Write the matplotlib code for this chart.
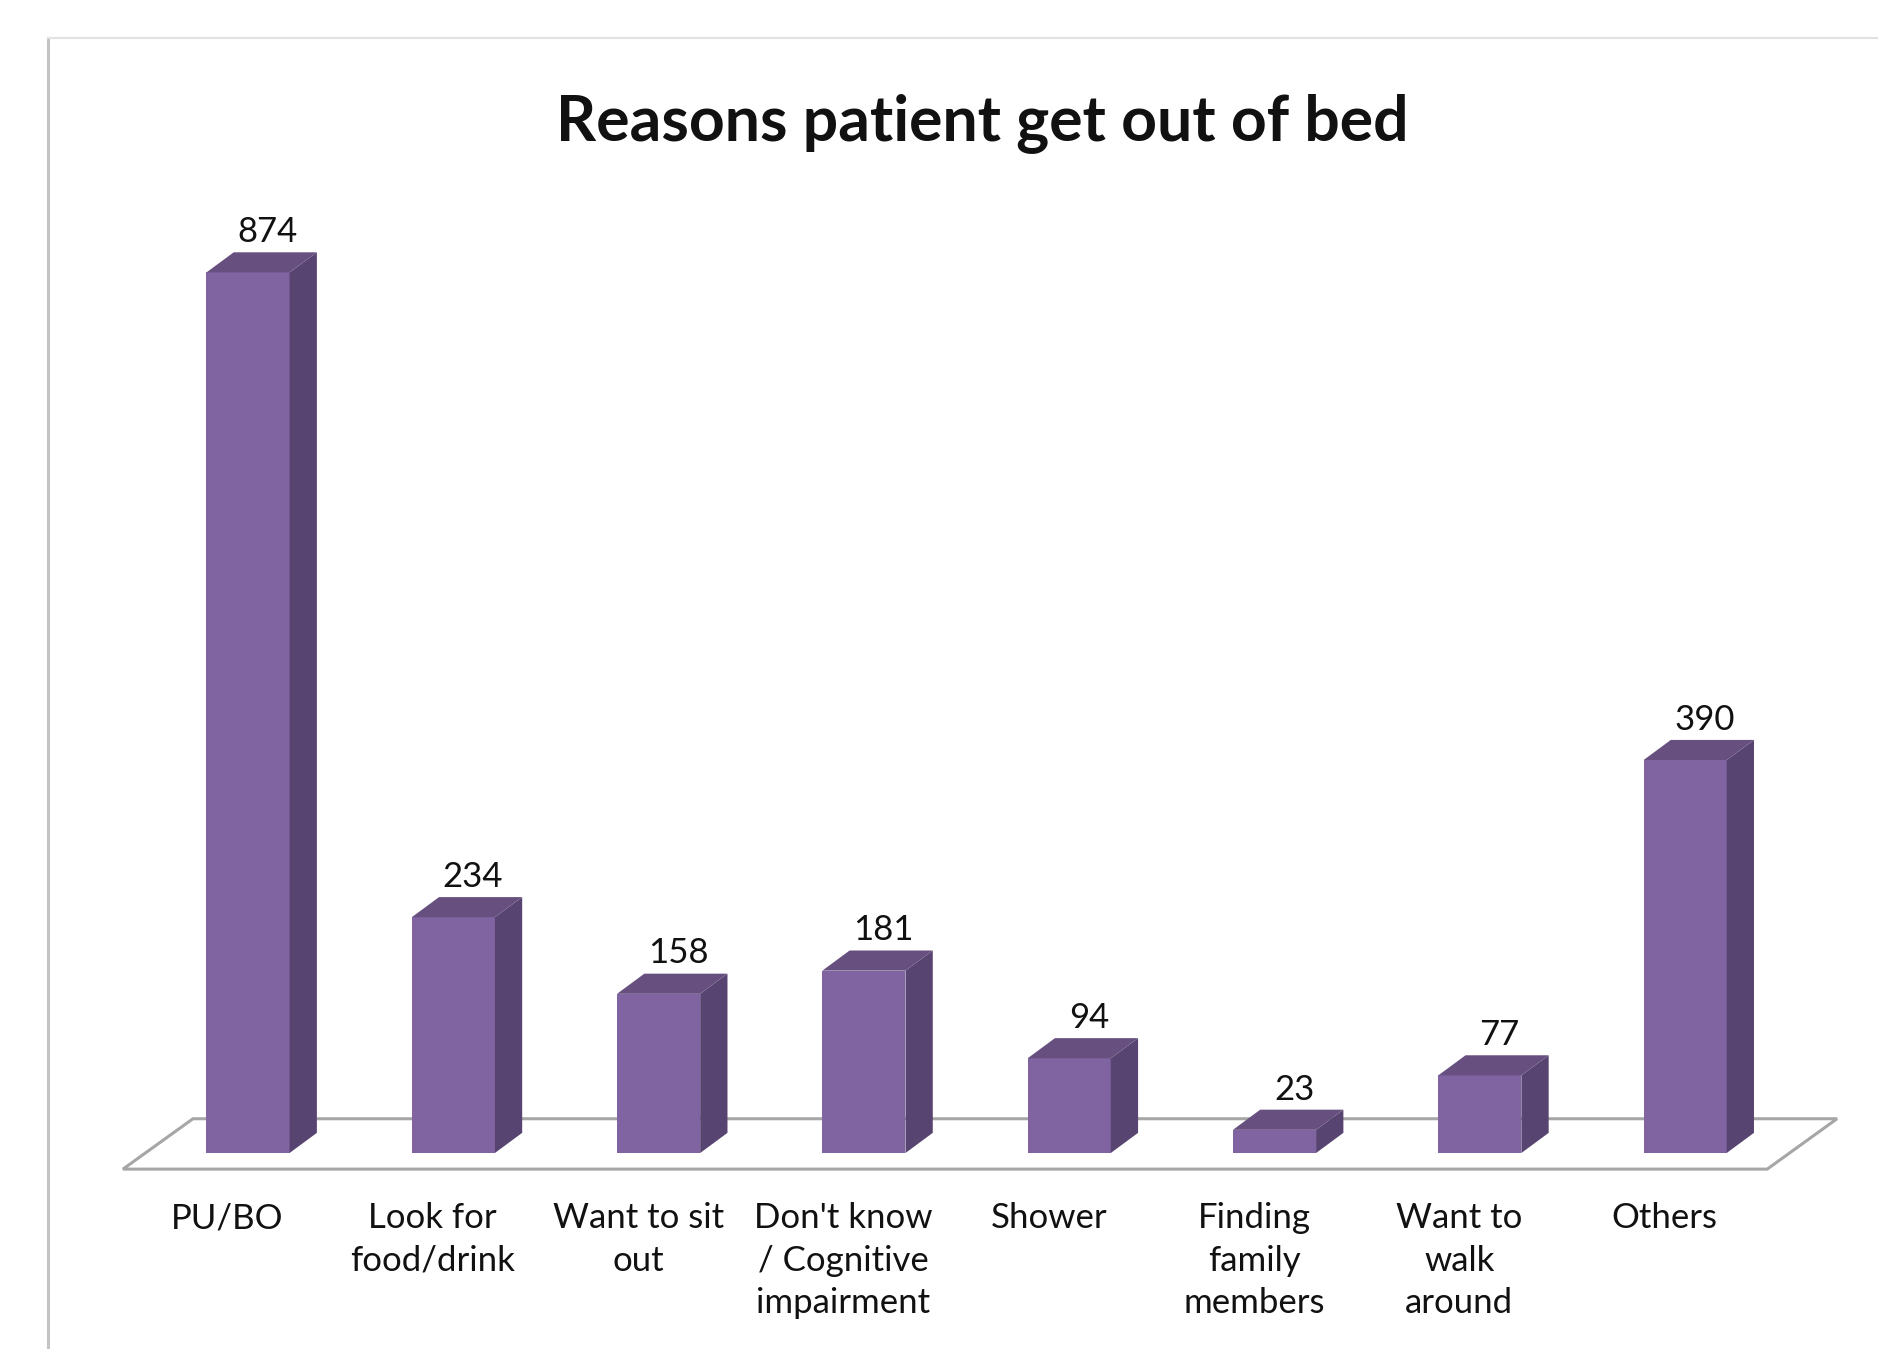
import numpy as np
import matplotlib.pyplot as plt
from matplotlib.patches import Polygon
from matplotlib.lines import Line2D

plt.rcParams['font.family'] = ['Lato', 'DejaVu Sans']

# data
categories = ['PU/BO', 'Look for\nfood/drink', 'Want to sit\nout',
              "Don't know\n/ Cognitive\nimpairment", 'Shower',
              'Finding\nfamily\nmembers', 'Want to\nwalk\naround', 'Others']
counts = [874, 234, 158, 181, 94, 23, 77, 390]
title = 'Reasons patient get out of bed'

# colours for the fake 3d bars
c_front = '#8064A2'
c_side = '#574470'
c_top = '#67507F'
c_floor = '#A6A6A6'

W, H = 1878, 1349
fig = plt.figure(figsize=(W / 100, H / 100), dpi=100)
ax = fig.add_axes([0, 0, 1, 1])

# axis scale: 205.3 px per category, ~1.0075 px per count
px_x = 205.3
px_y = 1.0075
x0 = -248 / px_x
y0 = -196 / px_y
ax.set_xlim(x0, x0 + W / px_x)
ax.set_ylim(y0, y0 + H / px_y)
ax.axis('off')

bw = 0.405      # bar width (category units)
dx = 0.133      # depth shift in x
dy = 20         # depth shift in y (count units)

# floor
fl = Polygon([(-0.609, -16), (7.40, -16), (7.74, 34), (-0.268, 34)],
             closed=True, facecolor='none', edgecolor=c_floor, lw=2.2, zorder=1)
ax.add_patch(fl)

for i, v in enumerate(counts):
    l, r = i - bw / 2, i + bw / 2
    front = Polygon([(l, 0), (r, 0), (r, v), (l, v)], closed=True,
                    facecolor=c_front, edgecolor='none', zorder=3)
    side = Polygon([(r, 0), (r + dx, dy), (r + dx, v + dy), (r, v)], closed=True,
                   facecolor=c_side, edgecolor='none', zorder=3)
    top = Polygon([(l, v), (r, v), (r + dx, v + dy), (l + dx, v + dy)], closed=True,
                  facecolor=c_top, edgecolor='none', zorder=3)
    for p in (front, side, top):
        ax.add_patch(p)
    ax.annotate(str(v), (i + dx / 2 + 0.03, v + dy), xytext=(0, 3),
                textcoords='offset points', ha='center', va='bottom',
                fontsize=25, color='#111111')
    ax.text(i - 0.1, -49, categories[i], ha='center', va='top',
            fontsize=25, linespacing=1.39, color='#111111')

ax.text(0.523, 0.909, title, transform=fig.transFigure, ha='center',
        va='center', fontsize=45, fontweight='bold', color='#111111')

# chart area border (left and top)
fig.add_artist(Line2D([48 / W, 48 / W], [0, 1 - 38 / H], color='#C4C4C4', lw=2.2))
fig.add_artist(Line2D([48 / W, 1], [1 - 38 / H, 1 - 38 / H], color='#E2E2E2', lw=1.5))

fig.savefig('out.png', dpi=100)
